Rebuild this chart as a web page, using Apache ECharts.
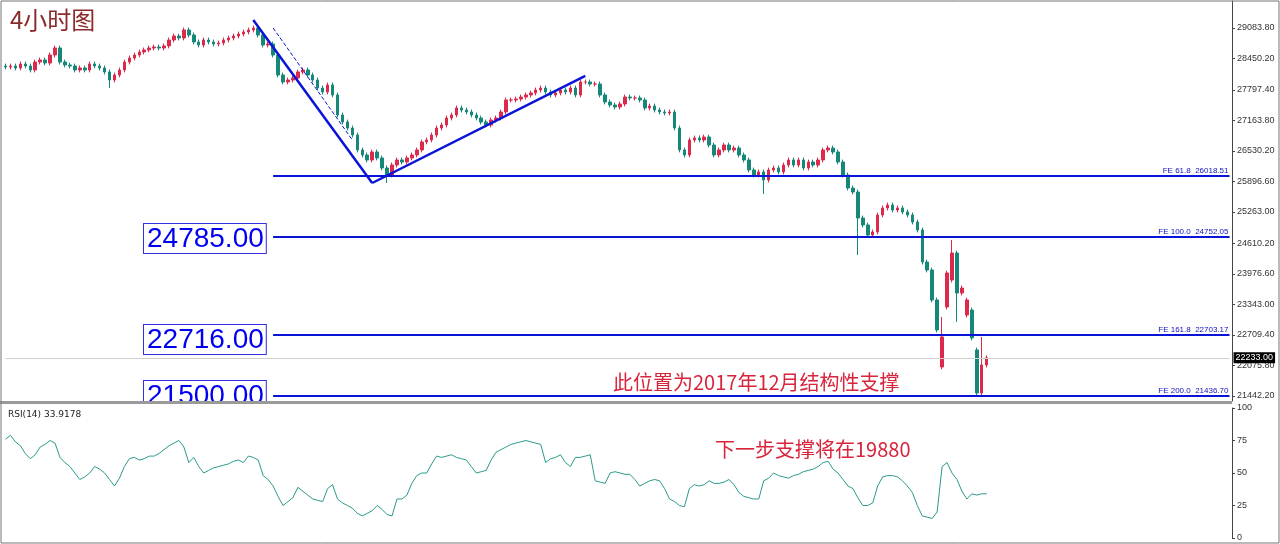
<!DOCTYPE html>
<html><head><meta charset="utf-8">
<script src="https://cdn.jsdelivr.net/npm/echarts@6/dist/echarts.min.js"></script>
<style>html,body{margin:0;background:#fff}#c{width:1280px;height:544px}</style>
</head><body><div id="c"></div>
<script>
// closes (4h candles)
const closes = [28273,28294,28253,28336,28294,28211,28377,28419,28356,28523,28668,28377,28315,28294,28211,28253,28211,28336,28294,28253,
28170,28003,28107,28211,28377,28460,28523,28585,28627,28668,28689,28668,28710,28834,28917,28876,29042,28938,28793,28730,
28834,28793,28751,28772,28834,28876,28917,28959,29000,29042,29083,28938,28730,28751,28523,28107,27962,28003,28045,28170,
28211,28107,28003,27837,27754,27900,27692,27277,27131,27006,26861,26550,26446,26342,26508,26384,26176,26030,26238,26342,
26300,26384,26446,26550,26716,26757,26861,27006,27069,27214,27277,27422,27380,27339,27277,27214,27131,27069,27173,27214,
27339,27588,27588,27609,27650,27692,27734,27796,27837,27754,27692,27734,27796,27754,27837,27692,27962,27962,27920,27920,
27692,27546,27484,27443,27505,27650,27630,27630,27588,27422,27463,27380,27339,27318,27339,27006,26550,26446,26757,26799,
26757,26819,26653,26446,26550,26653,26550,26591,26446,26342,26134,26030,26093,25926,26134,26176,26093,26238,26342,26238,
26342,26176,26300,26238,26342,26550,26591,26508,26300,26030,25760,25677,25137,24992,24784,24847,25199,25345,25407,25303,
25345,25262,25199,25054,24888,24223,24057,23434,22811,
22666,23995,24410,23579,23683,23434,22645,21502,22084,22233];
// opens of the last candles (gaps after the sell-off)
const tailOpens = [22043,23289,23849,24410,23579,23122,23226,22396,21502,22084];
const wickHigh = {189:23081,191:24680,197:22666};
const wickLow = {21:27837,77:25864,153:25635,172:24369,192:22980,196:21420};
const rsi = [76,79,74,71,65,61,64,70,72,75,73,62,58,55,50,45,47,50,55,53,
50,45,40,46,55,61,62,60,61,63,63,65,68,71,73,75,70,58,62,55,
50,52,54,55,56,57,59,60,58,63,62,60,48,45,40,32,25,28,31,39,
36,33,30,29,28,38,41,30,27,25,23,19,17,19,21,25,22,18,17,30,
30,33,42,48,50,50,57,63,62,63,64,62,61,60,55,50,51,52,60,66,
68,70,72,73,74,75,74,73,72,58,61,62,64,58,55,62,62,63,64,44,
43,42,50,51,50,49,49,45,40,42,44,45,44,38,30,28,25,24,38,41,
40,41,44,42,42,43,45,41,35,32,31,30,30,44,46,50,48,47,46,48,
49,51,52,53,55,58,59,53,50,45,40,38,31,25,25,27,40,47,48,48,
47,44,40,35,25,17,16,15,20,55,58,50,45,36,30,34,33,34,34];
const priceTicks = [29083.8,28450.2,27797.4,27163.8,26530.2,25896.6,25263.0,24610.2,23976.6,23343.0,22709.4,22075.8,21442.2];
const feLevels = [['FE 61.8',26018.51],['FE 100.0',24752.05],['FE 161.8',22703.17],['FE 200.0',21436.70]];

const SLOTS = 248;
const cats = Array.from({length: SLOTS}, (_, i) => i);
const first = closes.length - tailOpens.length;
const candles = closes.map((c, i) => {
  const o = i >= first ? tailOpens[i - first] : (i ? closes[i - 1] : c + 20);
  const h = wickHigh[i] ?? Math.max(o, c) + 50;
  const l = wickLow[i] ?? Math.min(o, c) - 50;
  return [o, c, l, h];
});

const blue = '#0a14d8';
const seg = (a, b, style) => [{xAxis: a[0], yAxis: a[1], lineStyle: style}, {xAxis: b[0], yAxis: b[1]}];
const boxText = (txt, y, z) => ({
  type: 'text', left: 143, top: y, z: z || 10,
  style: { text: txt, font: '28px "Liberation Sans", Arial', fill: '#0000f0',
    borderColor: '#3030e0', borderWidth: 1, padding: [1, 2, 0, 3], backgroundColor: '#fff' }
});

const chart = echarts.init(document.getElementById('c'));
chart.setOption({
  animation: false,
  backgroundColor: '#fff',
  grid: [
    { left: 3, right: 48, top: 1, height: 400 },
    { left: 3, right: 48, top: 408, height: 130 }
  ],
  xAxis: [
    { type: 'category', data: cats, gridIndex: 0, boundaryGap: true, axisLine: { show: false },
      axisTick: { show: false }, axisLabel: { show: false } },
    { type: 'category', data: cats, gridIndex: 1, boundaryGap: true,
      axisLine: { lineStyle: { color: '#333' } }, axisTick: { interval: 11, length: 3 }, axisLabel: { show: false } }
  ],
  yAxis: [
    { type: 'value', gridIndex: 0, position: 'right', min: 21336, max: 29644, splitLine: { show: false },
      axisLine: { show: true, lineStyle: { color: '#444' } },
      axisTick: { show: true, length: 3, customValues: priceTicks },
      axisLabel: { customValues: priceTicks, formatter: v => v.toFixed(2), fontSize: 9, color: '#333', margin: 5 } },
    { type: 'value', gridIndex: 1, position: 'right', min: 0, max: 100, interval: 25,
      axisLine: { show: true, lineStyle: { color: '#444' } },
      axisTick: { show: true, length: 3 },
      axisLabel: { fontSize: 9, color: '#333', margin: 5 },
      splitLine: { lineStyle: { color: '#bbb', type: 'dashed' } } }
  ],
  series: [
    { type: 'candlestick', data: candles, barWidth: 3,
      itemStyle: { color: '#dc2a4c', color0: '#15887a', borderColor: '#dc2a4c', borderColor0: '#15887a', borderWidth: 1 },
      markLine: {
        symbol: 'none', silent: true,
        data: [
          ...feLevels.map(([n, v]) => [
            { xAxis: 54, yAxis: v, lineStyle: { color: blue, width: 2, type: 'solid' },
              label: { show: true, position: 'insideEndTop', formatter: n + '  ' + v.toFixed(2), color: '#1010c0', fontSize: 8, distance: 1 } },
            { xAxis: SLOTS - 1, yAxis: v }
          ]),
          [{ xAxis: 0, yAxis: 22233, lineStyle: { color: '#d0d0d0', width: 1, type: 'solid' },
             label: { show: true, position: 'end', formatter: '22233.00', color: '#fff', backgroundColor: '#000', fontSize: 9, padding: [1, 2], distance: 4 } },
           { xAxis: SLOTS - 1, yAxis: 22233 }],
          seg([50, 29250], [74, 25864], { color: blue, width: 2.5, type: 'solid' }),
          seg([74, 25864], [117, 28087], { color: blue, width: 2.5, type: 'solid' }),
          seg([54, 29084], [70, 26757], { color: blue, width: 1, type: 'dashed' })
        ].map(d => { if (!d[0].label) d[0].label = { show: false }; return d; })
      }
    },
    { type: 'line', xAxisIndex: 1, yAxisIndex: 1, data: rsi, showSymbol: false,
      lineStyle: { color: '#2a9a8c', width: 1 } }
  ],
  graphic: [
    { type: 'text', left: 10, top: 8, style: { text: '4小时图', font: '24px "Noto Sans CJK SC"', fill: '#8a2a2a' } },
    boxText('24785.00', 223),
    boxText('22716.00', 324),
    boxText('21500.00', 380, 1),
    { type: 'rect', z: 2, shape: { x: 0, y: 402, width: 1232, height: 142 }, style: { fill: '#fff' } },
    { type: 'rect', z: 3, shape: { x: 0, y: 401, width: 1232, height: 3 }, style: { fill: '#9a9a9a' } },
    { type: 'rect', z: 3, shape: { x: 1, y: 1, width: 1278, height: 542 }, style: { fill: 'none', stroke: '#777', lineWidth: 1 } },
    { type: 'text', left: 8, top: 410, z: 4, style: { text: 'RSI(14) 33.9178', font: '9px "DejaVu Sans"', fill: '#222' } },
    { type: 'text', left: 613, top: 372, z: 4, style: { text: '此位置为2017年12月结构性支撑', font: '20px "Noto Sans CJK SC"', fill: '#d8243c' } },
    { type: 'text', left: 715, top: 439, z: 4, style: { text: '下一步支撑将在19880', font: '20px "Noto Sans CJK SC"', fill: '#d8243c' } }
  ]
});
</script></body></html>
